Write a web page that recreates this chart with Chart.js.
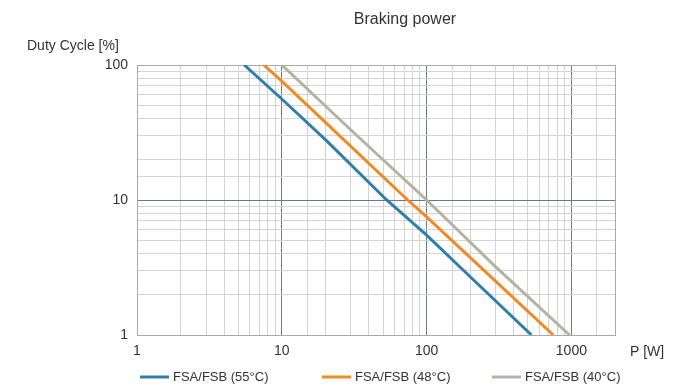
<!DOCTYPE html>
<html>
<head>
<meta charset="utf-8">
<title>Braking power</title>
<script src="https://cdn.jsdelivr.net/npm/chart.js@4.4.1/dist/chart.umd.min.js"></script>
<style>
  html, body { margin: 0; padding: 0; background: #fff; }
  canvas { display: block; }
</style>
</head>
<body>
<canvas id="myChart" width="682" height="389"></canvas>
<script>
// values (P in W, duty cycle in %)
const seriesLabels = ['FSA/FSB (55°C)', 'FSA/FSB (48°C)', 'FSA/FSB (40°C)'];
const seriesColors = ['#2f7fa8', '#f08a24', '#b2b4a3'];

const blueP = [5.5, 10, 20, 53, 100, 200, 530];
const blueDuty = [100, 56, 28, 10, 5.5, 2.7, 1];

const orangeP = [7.5, 10, 25, 74, 100, 250, 750];
const orangeDuty = [100, 76, 30, 10, 7.5, 3, 1];

const grayP = [10, 30, 100, 300, 970];
const grayDuty = [100, 33, 10, 3.2, 1];

const xTickLabels = ['1', '10', '100', '1000'];
const yTickLabels = ['1', '10', '100'];

function pts(xs, ys) {
  return xs.map((x, i) => ({x: x, y: ys[i]}));
}

const fontFam = '"Liberation Sans", Arial, sans-serif';
const textCol = '#333';

function gridCol(scaleMin, scaleMax) {
  return function(c) {
    const v = c.tick.value;
    if (v === scaleMin || v === scaleMax) return '#a9a9a9';
    const lg = Math.log10(v);
    if (Math.abs(lg - Math.round(lg)) < 1e-9) return '#6e7a83';
    return '#d3d3d3';
  };
}

function tickLbl(list) {
  return function(value) {
    const s = String(Math.round(value));
    return list.includes(s) && Math.abs(value - Math.round(value)) < 1e-9 ? s : '';
  };
}

// extra texts and the legend
const extras = {
  id: 'extras',
  afterDraw(chart) {
    const ctx = chart.ctx;
    ctx.save();
    ctx.fillStyle = textCol;
    ctx.textBaseline = 'middle';
    ctx.font = '16px ' + fontFam;
    ctx.textAlign = 'center';
    ctx.fillText('Braking power', 405, 20);
    ctx.font = '14px ' + fontFam;
    ctx.textAlign = 'left';
    ctx.fillText('Duty Cycle [%]', 27, 46);
    ctx.fillText('P [W]', 630, 352);

    const lx = [140, 322, 492];
    ctx.font = '13px ' + fontFam;
    chart.data.datasets.forEach((ds, i) => {
      ctx.strokeStyle = ds.borderColor;
      ctx.lineWidth = 3;
      ctx.beginPath();
      ctx.moveTo(lx[i], 377);
      ctx.lineTo(lx[i] + 29, 377);
      ctx.stroke();
      ctx.fillStyle = textCol;
      ctx.fillText(ds.label, lx[i] + 33, 377);
    });
    ctx.restore();
  }
};

const ctx = document.getElementById('myChart');

new Chart(ctx, {
  type: 'line',
  data: {
    datasets: [
      {label: seriesLabels[0], data: pts(blueP, blueDuty), borderColor: seriesColors[0]},
      {label: seriesLabels[1], data: pts(orangeP, orangeDuty), borderColor: seriesColors[1]},
      {label: seriesLabels[2], data: pts(grayP, grayDuty), borderColor: seriesColors[2]}
    ]
  },
  options: {
    responsive: false,
    animation: false,
    elements: {
      line: {borderWidth: 3, tension: 0},
      point: {radius: 0, hoverRadius: 0}
    },
    layout: {
      padding: {top: 65, right: 67, bottom: 0, left: 0}
    },
    plugins: {
      legend: {display: false},
      title: {display: false},
      tooltip: {enabled: false}
    },
    scales: {
      x: {
        type: 'logarithmic',
        min: 1,
        max: 2000,
        afterFit: (s) => { s.height = 54; },
        border: {color: '#a9a9a9'},
        grid: {color: gridCol(1, 2000), drawTicks: false},
        ticks: {
          autoSkip: false,
          maxRotation: 0,
          padding: 8,
          color: textCol,
          font: {size: 14, family: fontFam},
          callback: tickLbl(xTickLabels)
        }
      },
      y: {
        type: 'logarithmic',
        min: 1,
        max: 100,
        afterFit: (s) => { s.width = 137; },
        border: {color: '#a9a9a9'},
        grid: {color: gridCol(1, 100), drawTicks: false},
        ticks: {
          autoSkip: false,
          padding: 9,
          color: textCol,
          font: {size: 14, family: fontFam},
          callback: tickLbl(yTickLabels)
        }
      }
    }
  },
  plugins: [extras]
});
</script>
</body>
</html>
